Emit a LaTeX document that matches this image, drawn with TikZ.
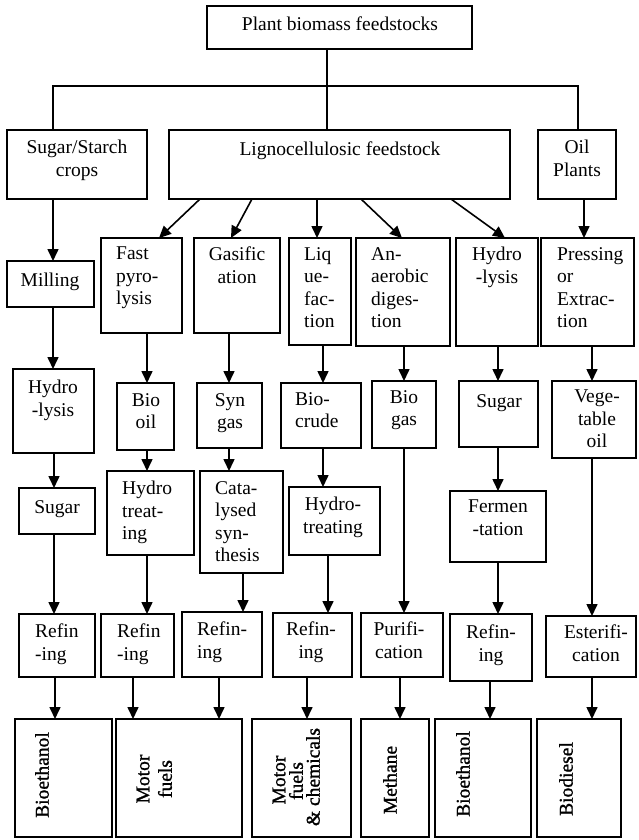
\documentclass[tikz,border=0pt]{standalone}
\usepackage{fontspec}
\setmainfont{Liberation Serif}
\newfontfamily\prodfont[FakeBold=1.2]{Liberation Serif}
\usetikzlibrary{arrows.meta}

% box given by its corners (x1,y1)-(x2,y2), y measured downwards
\newcommand\bx[5]{\node[box,minimum width={(#4)-(#2)},minimum height={(#5)-(#3)}] (#1) at ({((#2)+(#4))/2},{((#3)+(#5))/2}) {};}
% centred label: name, x of centre, y of first line
\newcommand\tc[4]{\node[txt,align=center,anchor=north] (#1) at ({#2},{(#3)-10}) {#4};}
% left-aligned label: name, left x, y of first line
\newcommand\tl[4]{\node[txt,align=left,anchor=north west] (#1) at ({#2},{(#3)-10}) {#4};}
% one line of a rotated product label, centred at (x,y)
\newcommand\pl[4]{\node[prod] (#1) at (#2,#3) {#4};}
% vertical arrow from one box to the next at a given x
\newcommand\va[3]{\coordinate (vx) at (#3,0); \draw[arr] (#1.south -| vx) -- (#2.north -| vx);}
% slanted arrow: start x on the upper box, end x on the lower box
\newcommand\da[4]{\coordinate (ua) at (#3,0); \coordinate (ub) at (#4,0); \draw[arr] (#1.south -| ua) -- (#2.north -| ub);}

\begin{document}
\begin{tikzpicture}[x=1pt,y=-1pt,
  box/.style={draw,line width=1.5pt,rectangle,inner sep=0pt,outer sep=0pt},
  txt/.style={inner sep=0pt,font=\fontsize{19.5}{22.5}\selectfont,execute at begin node=\strut},
  prod/.style={inner sep=0pt,font=\prodfont\fontsize{19.5}{22}\selectfont,rotate=90},
  link/.style={line width=1.5pt},
  arr/.style={line width=1.6pt,-{Triangle[length=12pt,width=11pt]}}]

\useasboundingbox (0,0) rectangle (638,840);

% ---- feedstocks
\bx{top}{207}{6}{472}{49}
\bx{sug}{7}{130}{147}{199}
\bx{lig}{169}{130}{510}{199}
\bx{oil}{538}{130}{616}{199}

\tc{t-top}{340}{25}{Plant biomass feedstocks}
\tc{t-sug}{77}{150}{Sugar/Starch\\crops}
\tc{t-lig}{340}{150}{Lignocellulosic feedstock}
\tc{t-oil}{577}{150}{Oil\\Plants}

\coordinate (jl) at (53,86);
\coordinate (jc) at (327,86);
\coordinate (jr) at (578,86);
\draw[link] (top.south -| jc) -- (lig.north -| jc);
\draw[link] (sug.north -| jl) -- (jl) -- (jr) -- (oil.north -| jr);

% ---- conversion routes
\bx{mill}{7}{261}{94}{307}
\bx{fast}{101}{238}{182}{333}
\bx{gas}{194}{238}{280}{333}
\bx{liq}{289}{238}{351}{345}
\bx{ana}{356}{238}{450}{346}
\bx{hyd}{456}{238}{538}{346}
\bx{pre}{541}{238}{634}{346}

\tc{t-mill}{50}{281}{Milling}
\tl{t-fast}{116}{257}{Fast\\pyro-\\lysis}
\tc{t-gas}{237}{257}{Gasific\\ation}
\tl{t-liq}{304}{257}{Liq\\ue-\\fac-\\tion}
\tl{t-ana}{371}{257}{An-\\aerobic\\diges-\\tion}
\tc{t-hyd}{497}{257}{Hydro\\-lysis}
\tl{t-pre}{557}{257}{Pressing\\or\\Extrac-\\tion}

% ---- intermediates
\bx{hyl}{13}{369}{94}{453}
\bx{bo}{117}{383}{174}{450}
\bx{syn}{197}{383}{262}{448}
\bx{bc}{281}{383}{361}{448}
\bx{bg}{372}{381}{436}{448}
\bx{sg2}{459}{381}{538}{447}
\bx{veg}{552}{381}{636}{458}

\tc{t-hyl}{53}{390}{Hydro\\-lysis}
\tc{t-bo}{146}{403}{Bio\\oil}
\tc{t-syn}{230}{403}{Syn\\gas}
\tl{t-bc}{295}{402}{Bio-\\crude}
\tc{t-bg}{404}{400}{Bio\\gas}
\tc{t-sg2}{499}{402}{Sugar}
\tc{t-veg}{597}{400}{Vege-\\table\\oil}

\bx{sg1}{19}{488}{95}{534}
\bx{ht1}{107}{471}{194}{555}
\bx{cat}{200}{471}{283}{573}
\bx{ht2}{289}{487}{380}{555}
\bx{fer}{450}{491}{546}{562}

\tc{t-sg1}{57}{508}{Sugar}
\tl{t-ht1}{122}{491}{Hydro\\treat-\\ing}
\tl{t-cat}{215}{491}{Cata-\\lysed\\syn-\\thesis}
\tc{t-ht2}{333}{507}{Hydro-\\treating}
\tc{t-fer}{498}{510}{Fermen\\-tation}

% ---- final processing
\bx{r1}{19}{614}{95}{677}
\bx{r2}{101}{614}{174}{677}
\bx{r3}{182}{612}{262}{677}
\bx{r4}{273}{613}{352}{677}
\bx{pur}{361}{613}{443}{677}
\bx{r6}{450}{614}{532}{681}
\bx{est}{546}{616}{636}{677}

\tl{t-r1}{35}{634}{Refin\\-ing}
\tl{t-r2}{117}{634}{Refin\\-ing}
\tl{t-r3}{197}{632}{Refin-\\ing}
\tc{t-r4}{311}{632}{Refin-\\ing}
\tc{t-pur}{399}{632}{Purifi-\\cation}
\tc{t-r6}{491}{635}{Refin-\\ing}
\tc{t-est}{596}{635}{Esterifi-\\cation}

% ---- products
\bx{p1}{15}{719}{112}{837}
\bx{p2}{116}{719}{242}{837}
\bx{p3}{252}{719}{351}{837}
\bx{p4}{361}{719}{429}{837}
\bx{p5}{435}{719}{531}{837}
\bx{p6}{537}{719}{621}{837}

\pl{t-p1}{42}{775}{Bioethanol}
\pl{t-p2a}{143}{779}{Motor}
\pl{t-p2b}{165}{779}{fuels}
\pl{t-p3a}{279}{780}{Motor}
\pl{t-p3b}{296}{781}{fuels}
\pl{t-p3c}{313}{777}{\& chemicals}
\pl{t-p4}{390}{780}{Methane}
\pl{t-p5}{463}{774}{Bioethanol}
\pl{t-p6}{566}{779}{Biodiesel}

% ---- arrows
\va{sug}{mill}{53}
\va{mill}{hyl}{53}
\va{hyl}{sg1}{54}
\va{sg1}{r1}{54}
\va{r1}{p1}{55}

\da{lig}{fast}{200}{159}
\da{lig}{gas}{252}{231}
\va{lig}{liq}{317}
\da{lig}{ana}{361}{402}
\da{lig}{hyd}{451}{505}
\va{oil}{pre}{584}

\va{fast}{bo}{147}
\va{bo}{ht1}{147}
\va{ht1}{r2}{147}
\va{r2}{p2}{133}

\va{gas}{syn}{229}
\va{syn}{cat}{229}
\va{cat}{r3}{243}
\va{r3}{p2}{219}

\va{liq}{bc}{323}
\va{bc}{ht2}{323}
\va{ht2}{r4}{328}
\va{r4}{p3}{307}

\va{ana}{bg}{404}
\va{bg}{pur}{404}
\va{pur}{p4}{400}

\va{hyd}{sg2}{498}
\va{sg2}{fer}{498}
\va{fer}{r6}{498}
\va{r6}{p5}{490}

\va{pre}{veg}{592}
\va{veg}{est}{592}
\va{est}{p6}{592}

\end{tikzpicture}
\end{document}
